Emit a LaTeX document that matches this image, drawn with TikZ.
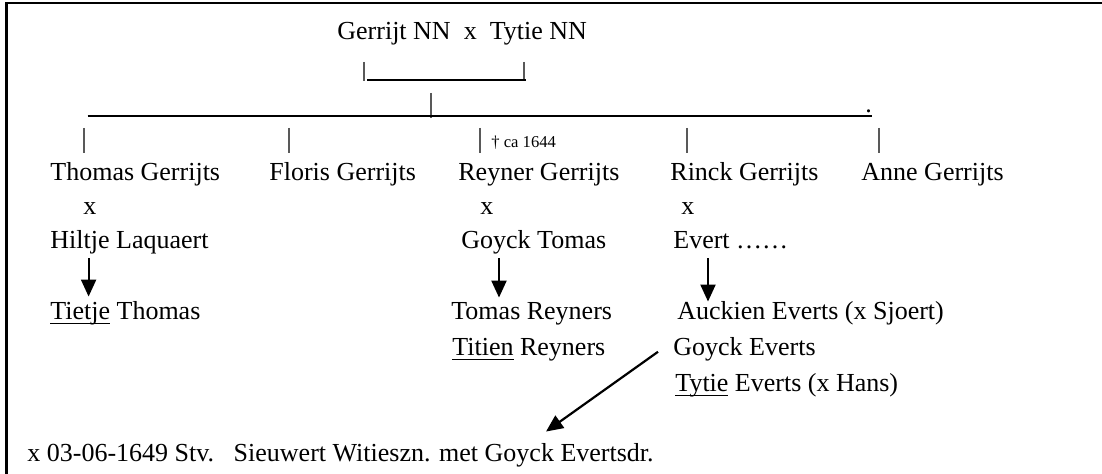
\documentclass[tikz,border=0pt]{standalone}
\usepackage{fontspec}
\setmainfont{Liberation Serif}
\usetikzlibrary{arrows.meta}

\newsavebox\ondbox
\newcommand{\onder}[1]{\sbox\ondbox{#1}\rlap{\rule[-2.2pt]{\wd\ondbox}{0.7pt}}\usebox\ondbox}

\tikzset{
  naam/.style={anchor=base west, inner sep=0pt, font=\fontsize{13}{15}\selectfont},
  klein/.style={naam, font=\fontsize{8.3}{10}\selectfont},
  streep/.style={black!65, line width=0.6pt},
  lijn/.style={line width=1.1pt},
  pijl/.style={line width=1.1pt, -{Triangle[length=8.5pt,width=7.5pt]}},
}

\begin{document}
\begin{tikzpicture}[x=0.5pt,y=-0.5pt]
  \useasboundingbox (0,0) rectangle (1102,474);
  % kader
  \draw[line width=1.2pt] (6.5,474) -- (6.5,3) -- (1102,3);

  % ouders
  \node[naam] (ouders) at (337,40) {Gerrijt NN\ \ x\ \ Tytie NN};
  \draw[streep] (364,62) -- (364,81);
  \draw[streep] (524,62) -- (524,81);
  \draw[lijn] (367,80) -- (526,80);
  \draw[streep] (431,93) -- (431,118);
  \draw[lijn] (87.5,116) -- (872,116);
  \node[naam] (punt) at (865,113) {.};
  \foreach \x in {84,289,480,687,879}
    \draw[streep] (\x,128) -- (\x,153);
  \node[klein] (sterf) at (491,148) {† ca 1644};

  % kinderen
  \node[naam] (thomas) at (50,181) {Thomas Gerrijts};
  \node[naam] (floris) at (269,181) {Floris Gerrijts};
  \node[naam] (reyner) at (458,181) {Reyner Gerrijts};
  \node[naam] (rinck) at (670,181) {Rinck Gerrijts};
  \node[naam] (anne) at (861,181) {Anne Gerrijts};

  \node[naam] (x1) at (83,215) {x};
  \node[naam] (x2) at (480,215) {x};
  \node[naam] (x3) at (681,215) {x};

  \node[naam] (hiltje) at (50,249) {Hiltje Laquaert};
  \node[naam] (goyckt) at (461,249) {Goyck Tomas};
  \node[naam] (evert) at (673,249) {Evert ……};

  % kleinkinderen
  \node[naam] (tietje) at (50,320) {\onder{Tietje} Thomas};
  \node[naam] (tomas) at (451,320) {Tomas Reyners};
  \node[naam] (titien) at (452,356) {\onder{Titien} Reyners};
  \node[naam] (auckien) at (677,320) {Auckien Everts (x Sjoert)};
  \node[naam] (goycke) at (673,356) {Goyck Everts};
  \node[naam] (tytie) at (675,392) {\onder{Tytie} Everts (x Hans)};

  \node[naam] (huwelijk) at (27,462) {x 03-06-1649 Stv.\ \ \ Sieuwert Witieszn. met Goyck Evertsdr.};

  % pijlen
  \path (hiltje.south west) ++(38.6,0) coordinate (h1);
  \path (goyckt.south west) ++(38,0) coordinate (h2);
  \path (evert.south west) ++(35,0) coordinate (h3);
  \path (huwelijk.north west) ++(519,-12) coordinate (h4);
  \draw[pijl, shorten <=1.7pt, shorten >=2.5pt] (h1) -- (h1 |- tietje.north);
  \draw[pijl, shorten <=1.7pt, shorten >=2.5pt] (h2) -- (h2 |- tomas.north);
  \draw[pijl, shorten <=4.3pt, shorten >=0pt] (h3) -- (h3 |- auckien.north);
  \draw[pijl] ([xshift=-7.5pt,yshift=-1pt]goycke.west) -- (h4);
\end{tikzpicture}
\end{document}
